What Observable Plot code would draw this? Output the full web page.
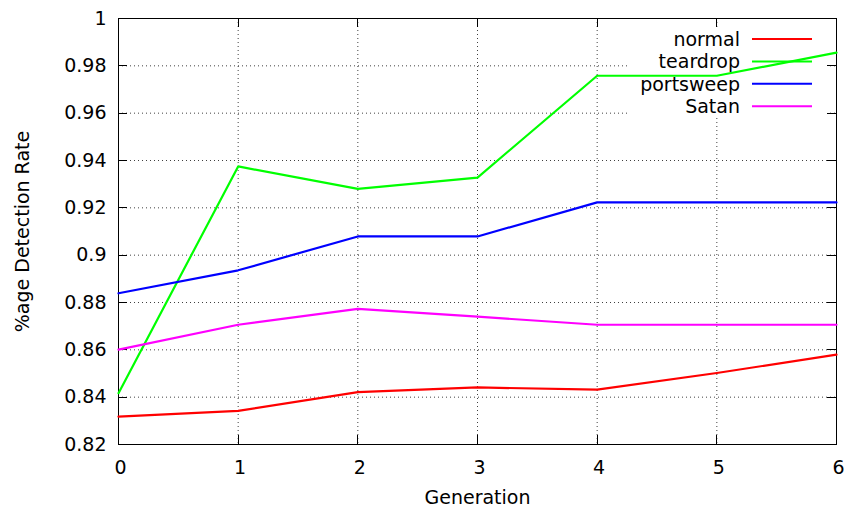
<!DOCTYPE html>
<html>
<head>
<meta charset="utf-8">
<script src="https://cdn.jsdelivr.net/npm/d3@7"></script>
<script src="https://cdn.jsdelivr.net/npm/@observablehq/plot@0.6"></script>
<style>
  html, body { margin: 0; padding: 0; background: #fff; }
  #chart { width: 844px; height: 508px; }
</style>
</head>
<body>
<div id="chart"></div>
<script>
const generations = [0, 1, 2, 3, 4, 5, 6];
const normal    = [0.8318, 0.8342, 0.8421, 0.8441, 0.8432, 0.8502, 0.8580];
const teardrop  = [0.8417, 0.9375, 0.9280, 0.9328, 0.9758, 0.9758, 0.9856];
const portsweep = [0.8839, 0.8936, 0.9079, 0.9079, 0.9223, 0.9223, 0.9223];
const satan     = [0.8601, 0.8706, 0.8773, 0.8740, 0.8706, 0.8706, 0.8706];
const seriesNames = ["normal", "teardrop", "portsweep", "Satan"];
const seriesColors = ["#ff0000", "#00ff00", "#0000ff", "#ff00ff"];
const xTicks = [0, 1, 2, 3, 4, 5, 6];
const yTicks = [0.82, 0.84, 0.86, 0.88, 0.9, 0.92, 0.94, 0.96, 0.98, 1];
const xLabel = "Generation";
const yLabel = "%age Detection Rate";

const seriesValues = [normal, teardrop, portsweep, satan];
const data = [];
seriesNames.forEach((name, i) => {
  generations.forEach((g, j) => data.push({series: name, gen: g, rate: seriesValues[i][j]}));
});

const fmt = d => String(+d.toFixed(2));

function frameTicks(index, scales, values, dims) {
  const {x, y} = scales;
  const L = dims.marginLeft, R = dims.width - dims.marginRight;
  const T = dims.marginTop, B = dims.height - dims.marginBottom;
  const len = 9;
  const g = d3.create("svg:g").attr("stroke", "black").attr("stroke-width", 1);
  for (const t of xTicks) {
    const px = Math.round(x(t)) + 0.5;
    g.append("line").attr("x1", px).attr("x2", px).attr("y1", B).attr("y2", B - len);
    g.append("line").attr("x1", px).attr("x2", px).attr("y1", T).attr("y2", T + len);
  }
  for (const t of yTicks) {
    const py = Math.round(y(t)) + 0.5;
    g.append("line").attr("y1", py).attr("y2", py).attr("x1", L).attr("x2", L + len);
    g.append("line").attr("y1", py).attr("y2", py).attr("x1", R).attr("x2", R - len);
  }
  return g.node();
}

function legendBox(index, scales, values, dims) {
  const R = dims.width - dims.marginRight, T = dims.marginTop;
  const g = d3.create("svg:g");
  g.append("rect").attr("x", R - 206).attr("y", T + 9).attr("width", 198).attr("height", 91).attr("fill", "white");
  return g.node();
}

function legend(index, scales, values, dims) {
  const R = dims.width - dims.marginRight, T = dims.marginTop;
  const g = d3.create("svg:g");
  seriesNames.forEach((name, i) => {
    const cy = T + 21 + i * 22.4;
    g.append("text").attr("x", R - 96).attr("y", cy).attr("dy", "0.37em")
      .attr("text-anchor", "end").attr("fill", "black").text(name);
    g.append("line").attr("x1", R - 84).attr("x2", R - 24).attr("y1", cy).attr("y2", cy)
      .attr("stroke", seriesColors[i]).attr("stroke-width", 2);
  });
  return g.node();
}

const chart = Plot.plot({
  width: 844,
  height: 508,
  marginLeft: 118,
  marginRight: 8,
  marginTop: 18,
  marginBottom: 64,
  style: {fontFamily: "DejaVu Sans", fontSize: "19px", color: "black", background: "white"},
  x: {domain: [0, 6]},
  y: {domain: [0.82, 1]},
  color: {domain: seriesNames, range: seriesColors},
  marks: [
    Plot.gridX(xTicks, {stroke: "black", strokeOpacity: 0.75, strokeDasharray: "1,3"}),
    Plot.gridY(yTicks, {stroke: "black", strokeOpacity: 0.75, strokeDasharray: "1,3"}),
    legendBox,
    Plot.frame({stroke: "black"}),
    frameTicks,
    Plot.axisX(xTicks, {tickSize: 0, tickPadding: 16, dx: 2, label: null, tickFormat: fmt}),
    Plot.axisY(yTicks, {tickSize: 0, tickPadding: 12, label: null, tickFormat: fmt}),
    legend,
    Plot.line(data, {x: "gen", y: "rate", z: "series", stroke: "series", strokeWidth: 2.2}),
    Plot.text([xLabel], {frameAnchor: "bottom", lineAnchor: "middle", dy: 53, text: d => d, fill: "black"}),
    Plot.text([yLabel], {frameAnchor: "left", textAnchor: "middle", lineAnchor: "middle", dx: -96, rotate: -90, text: d => d, fill: "black"})
  ]
});
document.getElementById("chart").appendChild(chart);
</script>
</body>
</html>
